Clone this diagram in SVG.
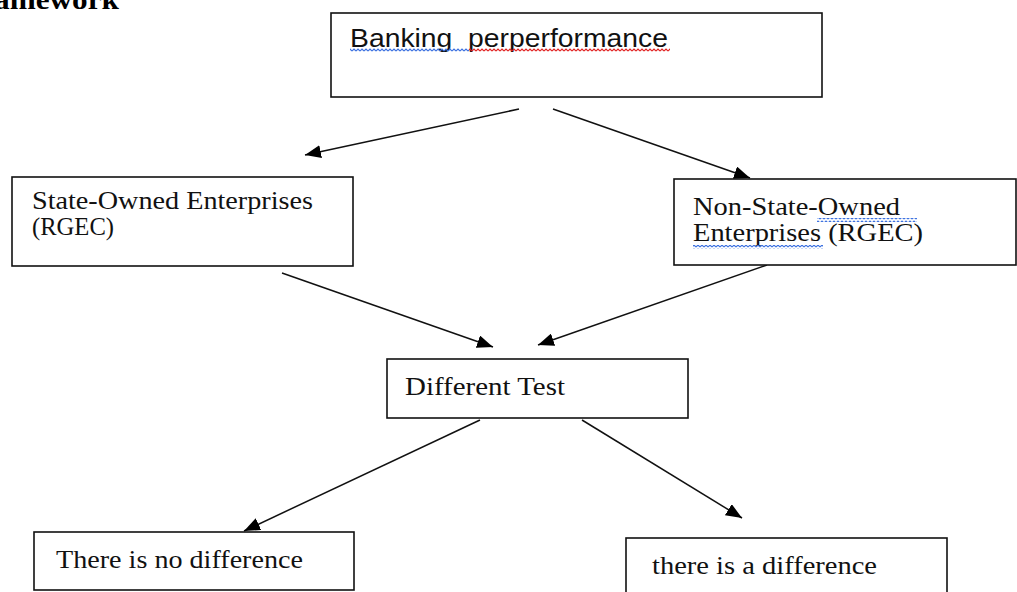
<svg xmlns="http://www.w3.org/2000/svg" width="1017" height="592" viewBox="0 0 1017 592">
<style>
.box{fill:#fff;stroke:#111;stroke-width:1.6}
.serif{font-family:"Liberation Serif","Times New Roman",serif;font-size:25px;fill:#111}
.sans{font-family:"Liberation Sans",Arial,sans-serif;font-size:26px;fill:#111}
.title{font-family:"Liberation Serif","Times New Roman",serif;font-size:27px;font-weight:bold;fill:#000}
.con{stroke:#111;stroke-width:1.5;fill:none;marker-end:url(#ah)}
</style>
<defs>
<marker id="ah" markerUnits="userSpaceOnUse" markerWidth="17" markerHeight="13" refX="16" refY="6.5" orient="auto">
<path d="M0,0 L16,6.5 L0,13 Z" fill="#000"/>
</marker>
<pattern id="wb" width="4" height="4" patternUnits="userSpaceOnUse"><path d="M0,3 L2,1 L4,3" fill="none" stroke="#3a6fe0" stroke-width="1.1"/></pattern>
<pattern id="wr" width="4" height="4" patternUnits="userSpaceOnUse"><path d="M0,3 L2,1 L4,3" fill="none" stroke="#e02020" stroke-width="1.1"/></pattern>
</defs>
<rect width="1017" height="592" fill="#fff"/>
<text class="title" x="-6" y="9" textLength="125" lengthAdjust="spacingAndGlyphs">amework</text>

<g id="connectors">
<line class="con" x1="519" y1="109" x2="305" y2="155"/>
<line class="con" x1="553" y1="109" x2="750" y2="178"/>
<line class="con" x1="282" y1="273" x2="493" y2="347"/>
<line class="con" x1="767" y1="265" x2="538" y2="345"/>
<line class="con" x1="480" y1="420" x2="244" y2="531"/>
<line class="con" x1="582" y1="420" x2="742" y2="518"/>
</g>

<g id="banking">
<rect class="box" x="331" y="13" width="491" height="84"/>
<text class="sans" x="350" y="47" textLength="318" lengthAdjust="spacingAndGlyphs" xml:space="preserve">Banking  perperformance</text>
<rect x="350" y="48" width="119" height="4" fill="url(#wb)"/>
<rect x="469" y="48" width="201" height="4" fill="url(#wr)"/>
</g>

<g id="soe">
<rect class="box" x="12" y="177" width="341" height="89"/>
<text class="serif" x="32" y="209" textLength="281" lengthAdjust="spacingAndGlyphs">State-Owned Enterprises</text>
<text class="serif" x="32" y="235" textLength="82" lengthAdjust="spacingAndGlyphs">(RGEC)</text>
</g>

<g id="nsoe">
<rect class="box" x="674" y="179" width="342" height="86"/>
<text class="serif" x="693" y="215" textLength="207" lengthAdjust="spacingAndGlyphs">Non-State-Owned</text>
<text class="serif" x="693" y="241" textLength="230" lengthAdjust="spacingAndGlyphs">Enterprises (RGEC)</text>
<rect x="817" y="218" width="100" height="4" fill="url(#wb)"/>
<rect x="693" y="245" width="130" height="4" fill="url(#wb)"/>
</g>

<g id="test">
<rect class="box" x="387" y="359" width="301" height="59"/>
<text class="serif" x="405" y="395" textLength="160" lengthAdjust="spacingAndGlyphs">Different Test</text>
</g>

<g id="nodiff">
<rect class="box" x="34" y="532" width="320" height="58"/>
<text class="serif" x="56" y="568" textLength="247" lengthAdjust="spacingAndGlyphs">There is no difference</text>
</g>

<g id="diff">
<rect class="box" x="626" y="538" width="321" height="60"/>
<text class="serif" x="652" y="574" textLength="225" lengthAdjust="spacingAndGlyphs">there is a difference</text>
</g>
</svg>
